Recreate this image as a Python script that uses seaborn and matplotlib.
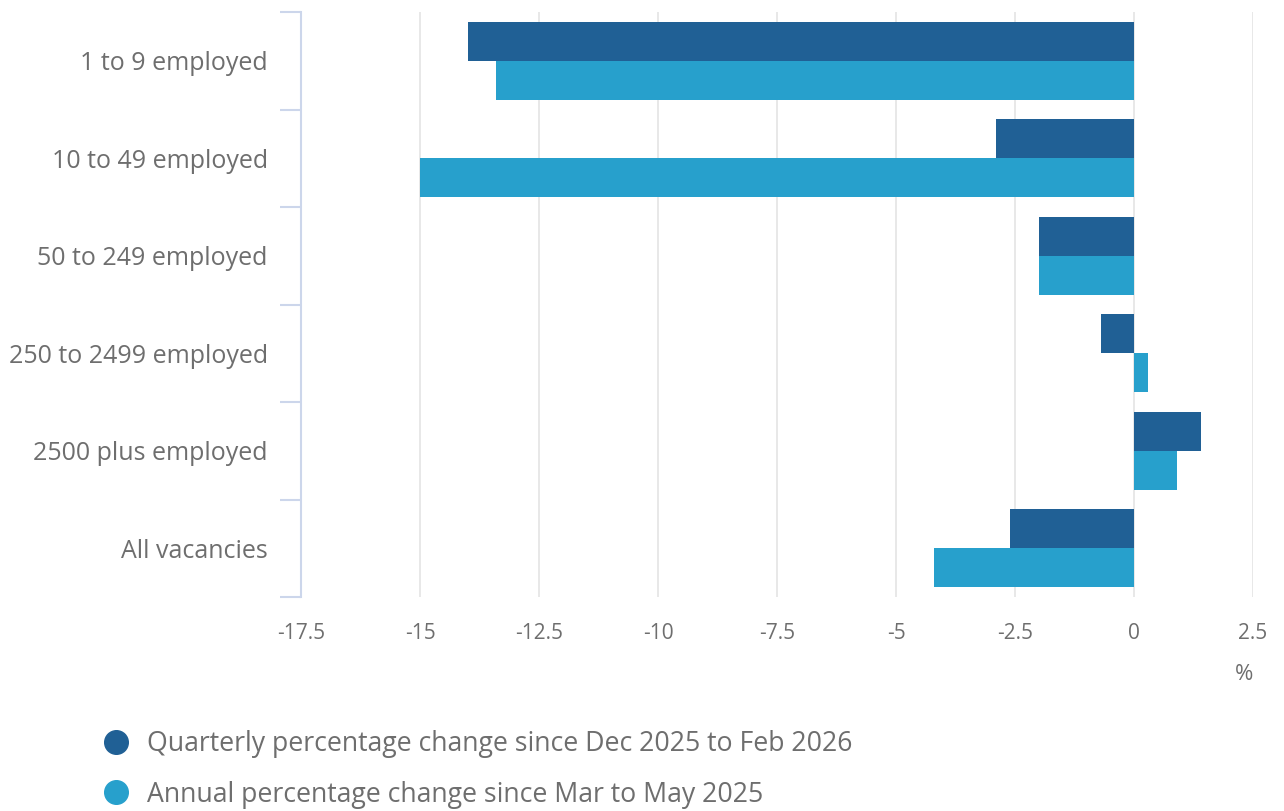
import pandas as pd
import numpy as np
import matplotlib
matplotlib.use("Agg")
import matplotlib.pyplot as plt
from matplotlib.lines import Line2D
import seaborn as sns

sns.set_style("white")
plt.rcParams['font.family'] = ['Open Sans', 'DejaVu Sans']

categories = ['1 to 9 employed', '10 to 49 employed', '50 to 249 employed',
              '250 to 2499 employed', '2500 plus employed', 'All vacancies']
quarterly = [-14.0, -2.9, -2.0, -0.7, 1.4, -2.6]
annual = [-13.4, -15.0, -2.0, 0.3, 0.9, -4.2]
series_names = ['Quarterly percentage change since Dec 2025 to Feb 2026',
                'Annual percentage change since Mar to May 2025']
xticks = [-17.5, -15, -12.5, -10, -7.5, -5, -2.5, 0, 2.5]
xtick_labels = ['-17.5', '-15', '-12.5', '-10', '-7.5', '-5', '-2.5', '0', '2.5']

colors = ['#206095', '#27a0cc']
text_col = '#6e6e6e'
axis_col = '#ccd6eb'

df = pd.DataFrame({'category': categories, series_names[0]: quarterly, series_names[1]: annual})
df_long = df.melt(id_vars='category', var_name='series', value_name='value')

fig = plt.figure(figsize=(12.84, 8.11), dpi=100)
ax = fig.add_axes([301/1284, 1-597/811, (1253-301)/1284, (597-12)/811])

sns.barplot(data=df_long, y='category', x='value', hue='series', orient='h',
            palette=colors, order=categories, hue_order=series_names,
            width=0.8, linewidth=0, saturation=1, legend=False, ax=ax, zorder=3)

ax.set_xlim(-17.5, 2.5)
ax.set_ylim(5.5, -0.5)
ax.set_xticks(xticks)
ax.set_xticklabels(xtick_labels, fontsize=15, color=text_col)
ax.grid(axis='x', color='#e6e6e6', linewidth=1.3, zorder=0)
ax.tick_params(axis='x', length=0, pad=19)

ax.set_yticks(range(len(categories)))
ax.set_yticklabels(categories, fontsize=18, color=text_col)
ax.set_yticks(np.arange(-0.5, len(categories), 1), minor=True)
ax.tick_params(axis='y', which='major', left=True, length=0, pad=24)
ax.tick_params(axis='y', which='minor', left=True, length=15, width=1.5, color=axis_col)

for s in ['top', 'right', 'bottom']:
    ax.spines[s].set_visible(False)
ax.spines['left'].set_color(axis_col)
ax.spines['left'].set_linewidth(1.5)

ax.set_ylabel('')
ax.set_xlabel('%', loc='right', fontsize=16, color=text_col, labelpad=14)

handles = [Line2D([0], [0], marker='o', linestyle='', markersize=17,
                  markerfacecolor=c, markeredgecolor=c) for c in colors]
fig.legend(handles, series_names, loc='upper left', bbox_to_anchor=(76/1284, 1-706/811),
           frameon=False, fontsize=19.2, labelcolor=text_col, handletextpad=0.55,
           labelspacing=0.85, handlelength=1.2)

fig.savefig('out.png', dpi=100, facecolor='white')
